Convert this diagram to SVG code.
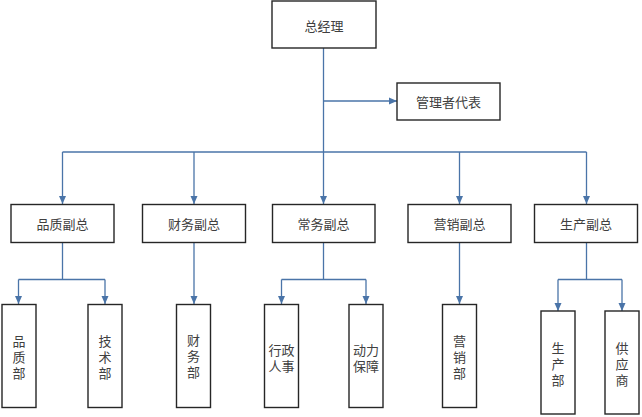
<svg xmlns="http://www.w3.org/2000/svg" width="642" height="417" viewBox="0 0 642 417">
<defs>
<marker id="arr" viewBox="0 0 8 8" refX="8" refY="4" markerWidth="8" markerHeight="8" markerUnits="userSpaceOnUse" orient="auto">
<path d="M0,0.5 L8,4 L0,7.5 Z" fill="#4a74a8"/>
</marker>
<style>
.box{fill:#ffffff;stroke:#262626;stroke-width:1.4}
.t{font-family:"Noto Sans CJK SC","Noto Sans",sans-serif;font-size:13px;fill:#404040;text-anchor:middle;dominant-baseline:central}
.c{fill:none;stroke:#4a74a8;stroke-width:1.3}
.a{fill:none;stroke:#4a74a8;stroke-width:1.3;marker-end:url(#arr)}
</style>
</defs>
<rect width="642" height="417" fill="#ffffff"/>
<g id="connectors">
<path class="c" d="M323.5,48 V152"/>
<path class="a" d="M323.5,101 H397"/>
<path class="c" d="M62.5,152 H586.5"/>
<path class="a" d="M62.5,152 V204"/>
<path class="a" d="M194,152 V204"/>
<path class="a" d="M323.5,152 V204"/>
<path class="a" d="M459.5,152 V204"/>
<path class="a" d="M586.5,152 V204"/>
<path class="c" d="M62.5,242 V279.5 M18.5,279.5 H105"/>
<path class="a" d="M18.5,279.5 V304"/>
<path class="a" d="M105,279.5 V304"/>
<path class="a" d="M194,242 V304"/>
<path class="c" d="M323.5,242 V279.5 M281.5,279.5 H366"/>
<path class="a" d="M281.5,279.5 V304"/>
<path class="a" d="M366,279.5 V304"/>
<path class="a" d="M459.5,242 V304"/>
<path class="c" d="M586.5,242 V279.5 M558,279.5 H622"/>
<path class="a" d="M558,279.5 V311"/>
<path class="a" d="M622,279.5 V311"/>
</g>
<g id="n_zjl"><rect class="box" x="272" y="1" width="104" height="47"/><text class="t" x="324" y="25">总经理</text></g>
<g id="n_glzdb"><rect class="box" x="397" y="83" width="103" height="37"/><text class="t" x="448.5" y="101.5">管理者代表</text></g>
<g id="n_pzfz"><rect class="box" x="11" y="204.5" width="103" height="38"/><text class="t" x="62.5" y="223">品质副总</text></g>
<g id="n_cwfz"><rect class="box" x="142.5" y="204.5" width="103" height="38"/><text class="t" x="194" y="223">财务副总</text></g>
<g id="n_swfz"><rect class="box" x="272.5" y="204.5" width="102.5" height="38"/><text class="t" x="323.5" y="223">常务副总</text></g>
<g id="n_yxfz"><rect class="box" x="408" y="204.5" width="103" height="38"/><text class="t" x="459.5" y="223">营销副总</text></g>
<g id="n_scfz"><rect class="box" x="534.5" y="204.5" width="103" height="38"/><text class="t" x="586" y="223">生产副总</text></g>
<g id="n_pzb"><rect class="box" x="2" y="304.5" width="34" height="103"/><text class="t" x="19" y="340"><tspan x="19">品</tspan><tspan x="19" dy="16">质</tspan><tspan x="19" dy="16">部</tspan></text></g>
<g id="n_jsb"><rect class="box" x="88" y="304.5" width="34" height="103"/><text class="t" x="105" y="340"><tspan x="105">技</tspan><tspan x="105" dy="16">术</tspan><tspan x="105" dy="16">部</tspan></text></g>
<g id="n_cwb"><rect class="box" x="176.5" y="304.5" width="34" height="103"/><text class="t" x="193.5" y="339"><tspan x="193.5">财</tspan><tspan x="193.5" dy="16">务</tspan><tspan x="193.5" dy="16">部</tspan></text></g>
<g id="n_xzrs"><rect class="box" x="264.5" y="304.5" width="34" height="103"/><text class="t" x="281.5" y="349"><tspan x="281.5">行政</tspan><tspan x="281.5" dy="16">人事</tspan></text></g>
<g id="n_dlbz"><rect class="box" x="349" y="304.5" width="34" height="103"/><text class="t" x="366" y="349"><tspan x="366">动力</tspan><tspan x="366" dy="16">保障</tspan></text></g>
<g id="n_yxb"><rect class="box" x="442.5" y="304.5" width="34" height="103"/><text class="t" x="459.5" y="340"><tspan x="459.5">营</tspan><tspan x="459.5" dy="16">销</tspan><tspan x="459.5" dy="16">部</tspan></text></g>
<g id="n_scb"><rect class="box" x="541" y="311" width="34" height="103"/><text class="t" x="558" y="347"><tspan x="558">生</tspan><tspan x="558" dy="16">产</tspan><tspan x="558" dy="16">部</tspan></text></g>
<g id="n_gys"><rect class="box" x="605" y="311" width="34" height="103"/><text class="t" x="622" y="347"><tspan x="622">供</tspan><tspan x="622" dy="16">应</tspan><tspan x="622" dy="16">商</tspan></text></g>
</svg>
